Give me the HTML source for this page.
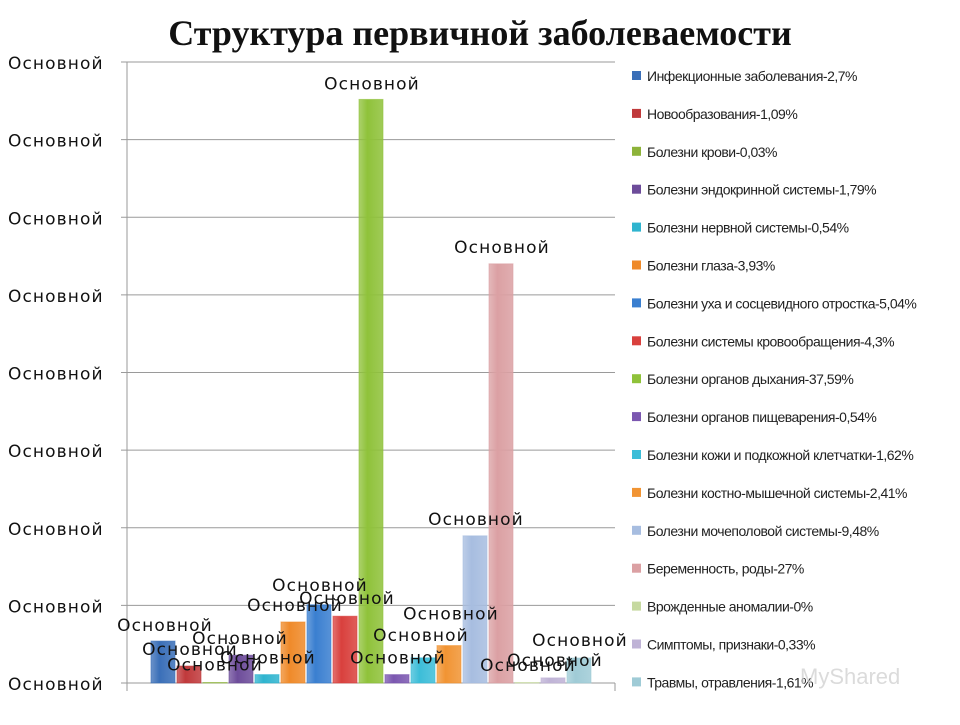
<!DOCTYPE html>
<html><head><meta charset="utf-8">
<style>
body{margin:0;background:#fff;width:960px;height:720px;overflow:hidden;font-family:"Liberation Sans","DejaVu Sans",sans-serif}
</style></head>
<body>
<svg id="chart" width="960" height="720" xmlns="http://www.w3.org/2000/svg">
<defs>
</defs>
<text x="480" y="45" text-anchor="middle" font-family="Liberation Serif, serif" font-weight="bold" font-size="36" fill="#111">Структура первичной заболеваемости</text>
<g id="grid"></g><g id="bars"></g><g id="labels"></g><g id="legend"></g>
<text x="800" y="684" font-size="22" fill="#ccc" opacity="0.7">MyShared</text>
</svg>
<script>
const categories=["Инфекционные заболевания-2,7%","Новообразования-1,09%","Болезни крови-0,03%","Болезни эндокринной системы-1,79%","Болезни нервной системы-0,54%","Болезни глаза-3,93%","Болезни уха и сосцевидного отростка-5,04%","Болезни системы кровообращения-4,3%","Болезни органов дыхания-37,59%","Болезни органов пищеварения-0,54%","Болезни кожи и подкожной клетчатки-1,62%","Болезни костно-мышечной системы-2,41%","Болезни мочеполовой системы-9,48%","Беременность, роды-27%","Врожденные аномалии-0%","Симптомы, признаки-0,33%","Травмы, отравления-1,61%"];
const values=[2.7,1.09,0.03,1.79,0.54,3.93,5.04,4.3,37.59,0.54,1.62,2.41,9.48,27,0,0.33,1.61];
const yTicks=[0,5,10,15,20,25,30,35,40];
const tickLabel="Основной";
const colors=["#3a6fb8","#c0393b","#8db33a","#6d4c9a","#2fb4cf","#ef8a2a","#3a7fd0","#d9403d","#8fc23a","#7b57b0","#3cbdd8","#f19433","#a7bde0","#dba0a3","#c6d9a0","#bfb3d6","#9fcbd6"];
const labelDx=[2,1,0,-1,1,2,1,2,1,1,-2,2,1,1,1,2,1];
const labelDy=[-17,-18,-19,-18,-18,-18,-21,-19,-17,-18,-24,-33,-18,-18,-19,-19,-19];
const NS="http://www.w3.org/2000/svg";
const x0=127,x1=615,y0=683,yTop=62,bw=26,pad=23;
const y=v=>y0-(v/40)*(y0-yTop);
const x=i=>x0+pad+i*bw;
function mk(t,a,p){const e=document.createElementNS(NS,t);for(const k in a)e.setAttribute(k,a[k]);p.appendChild(e);return e;}
const LF='DejaVu Sans, sans-serif';
const grid=document.getElementById('grid');
yTicks.forEach((t,i)=>{
 const l=mk('line',{x1:x0-6,x2:x1,y1:y(t),y2:y(t),stroke:'#9a9a9a','stroke-width':1},grid);
 
 
 const tx=mk('text',{x:8,y:y(t)+7,'font-size':17,'font-family':LF,'letter-spacing':1.1,fill:'#111'},grid);
 
 
 tx.textContent=tickLabel;
});
const ax=mk('line',{x1:x0,x2:x0,y1:yTop,y2:y0+8,stroke:'#9a9a9a'},grid);


mk('line',{x1:x1,x2:x1,y1:y0,y2:y0+8,stroke:'#9a9a9a'},grid);
const defs=document.querySelector('defs');
const bars=document.getElementById('bars'),labels=document.getElementById('labels');
values.forEach((v,i)=>{
 const g=mk('linearGradient',{id:'g'+i,x1:0,x2:1,y1:0,y2:0},defs);
 mk('stop',{offset:'0','stop-color':colors[i],'stop-opacity':0.75},g);
 mk('stop',{offset:'0.35','stop-color':colors[i]},g);
 mk('stop',{offset:'1','stop-color':colors[i],'stop-opacity':0.85},g);
 const h=Math.max(y0-y(v),0.5);
 const r=mk('rect',{x:x(i)+1,y:y0-h,width:bw-2,height:h,fill:'url(#g'+i+')',stroke:colors[i],'stroke-opacity':0.6},bars);
 
 
 const t=mk('text',{x:x(i)+bw/2+labelDx[i],y:y(v)+labelDy[i]+7,'text-anchor':'middle','font-size':17,'font-family':LF,'letter-spacing':1.1,fill:'#111'},labels);
 
 
 t.textContent=tickLabel;
});
const leg=document.getElementById('legend');
categories.forEach((c,i)=>{
 const yy=76+i*37.9;
 const g=mk('g',{},leg);
 
 
 mk('rect',{x:632,y:yy-5,width:9,height:9,fill:colors[i]},g);
 const t=mk('text',{x:647,y:yy+5,'font-size':14,'letter-spacing':'-0.5',fill:'#222'},g);
 t.textContent=c;
});
</script>
</body></html>
